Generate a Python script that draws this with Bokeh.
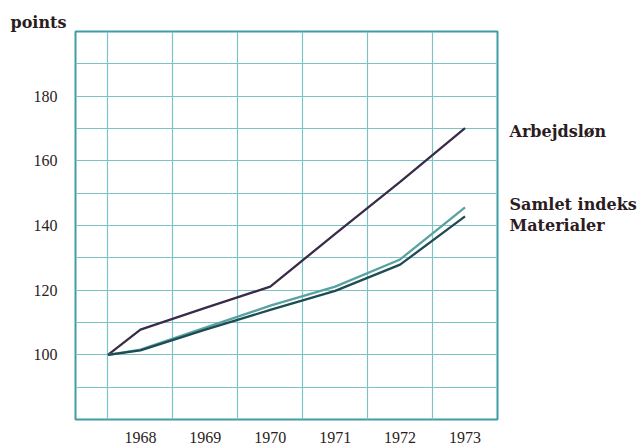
from bokeh.plotting import figure
from bokeh.models import FixedTicker, LinearAxis, Range1d, Title
from bokeh.embed import file_html
from bokeh.resources import INLINE

# data (index points, start = 100)
x_points = [1968.0, 1968.5, 1969.5, 1970.5, 1971.5, 1972.5, 1973.5]
arbejdslon = [100, 107.8, 114.5, 121.1, 137.4, 153.5, 170.1]
samlet_indeks = [100, 101.6, 108.4, 115.2, 121.1, 129.5, 145.6]
materialer = [100, 101.4, 107.8, 113.9, 119.8, 127.9, 142.8]

year_positions = [1968.5, 1969.5, 1970.5, 1971.5, 1972.5, 1973.5]
year_labels = ["1968", "1969", "1970", "1971", "1972", "1973"]
y_ticks = [100, 120, 140, 160, 180]
x_grid = [1968, 1969, 1970, 1971, 1972, 1973]
y_grid = [90, 100, 110, 120, 130, 140, 150, 160, 170, 180, 190]

series_names = ["Arbejdsløn", "Samlet indeks", "Materialer"]
series_label_y = [169.1, 146.5, 140.0]

TEXT = "#2b1c22"
GRID = "#7cc3c8"
FRAME = "#3e9ea6"

p = figure(width=639, height=445, frame_width=422, frame_height=388,
           x_range=Range1d(1967.5, 1974.0), y_range=Range1d(80, 200),
           output_backend="svg", toolbar_location=None,
           min_border_left=75, min_border_right=142, min_border_top=31,
           min_border_bottom=26)

p.background_fill_color = "white"
p.border_fill_color = "white"
p.outline_line_color = FRAME
p.outline_line_width = 2

p.xaxis.ticker = FixedTicker(ticks=year_positions)
p.xaxis.major_label_overrides = {pos: lab for pos, lab in zip(year_positions, year_labels)}
p.yaxis.ticker = FixedTicker(ticks=y_ticks)
for ax in (p.xaxis, p.yaxis):
    ax.axis_line_color = None
    ax.major_tick_line_color = None
    ax.minor_tick_line_color = None
    ax.major_label_text_font = "Liberation Serif"
    ax.major_label_text_font_size = "16px"
    ax.major_label_text_color = TEXT
p.yaxis.major_label_standoff = 12
p.xaxis.major_label_standoff = 6

# series names as labels of a right-hand axis
right_axis = LinearAxis(ticker=FixedTicker(ticks=series_label_y),
                        major_label_overrides={v: n for v, n in zip(series_label_y, series_names)})
right_axis.axis_line_color = None
right_axis.major_tick_line_color = None
right_axis.minor_tick_line_color = None
right_axis.major_label_text_font = "DejaVu Serif"
right_axis.major_label_text_font_style = "bold"
right_axis.major_label_text_font_size = "16px"
right_axis.major_label_text_color = TEXT
right_axis.major_label_standoff = 6
p.add_layout(right_axis, "right")

p.title = Title(text="points", align="left", offset=-65, standoff=0,
                text_font="DejaVu Serif", text_font_style="bold",
                text_font_size="16px", text_color=TEXT)

p.xgrid.ticker = FixedTicker(ticks=x_grid)
p.ygrid.ticker = FixedTicker(ticks=y_grid)
for g in (p.xgrid, p.ygrid):
    g.grid_line_color = GRID
    g.grid_line_width = 1.2

p.line(x_points, arbejdslon, line_color="#3a2b48", line_width=2.3)
p.line(x_points, samlet_indeks, line_color="#58a3a0", line_width=2.3)
p.line(x_points, materialer, line_color="#1f4b52", line_width=2.3)

open("out.html", "w").write(file_html(p, INLINE))
